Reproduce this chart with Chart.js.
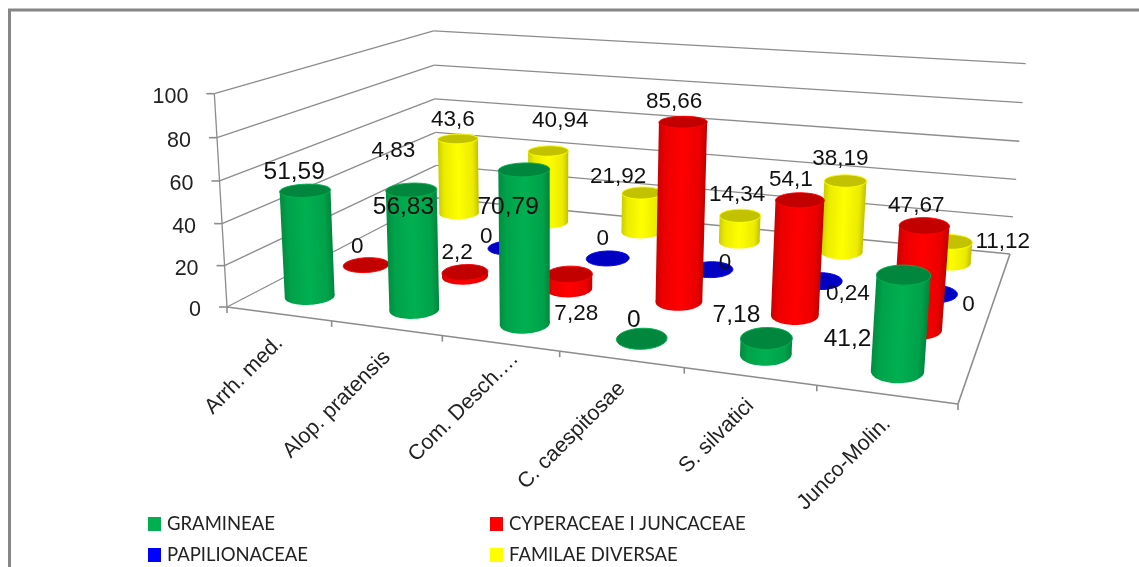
<!DOCTYPE html>
<html>
<head>
<meta charset="utf-8">
<title>Grupe de plante</title>
<script src="https://cdn.jsdelivr.net/npm/chart.js@4/dist/chart.umd.min.js"></script>
<style>
  html, body { margin: 0; padding: 0; background: #fff; overflow: hidden; }
  canvas { display: block; }
</style>
</head>
<body>
<canvas id="plantsChart" width="1139" height="567"></canvas>
<script>
const categories = ["Arrh. med.", "Alop. pratensis", "Com. Desch.…", "C. caespitosae", "S. silvatici", "Junco-Molin."];
const seriesNames = ["GRAMINEAE", "CYPERACEAE I JUNCACEAE", "PAPILIONACEAE", "FAMILAE DIVERSAE"];

const gramineae = [51.59, 56.83, 70.79, 0, 7.18, 41.2];
const cyperaceae = [0, 2.2, 7.28, 85.66, 54.1, 47.67];
const papilionaceae = [4.83, 0, 0, 0, 0.24, 0];
const familae = [43.6, 40.94, 21.92, 14.34, 38.19, 11.12];

const seriesColors = ["#00B050", "#FF0000", "#0000FF", "#FFFF00"];

// floor and wall corners of the 3D box, in canvas pixels
const box = {
  frontLeft: [227, 307],
  frontRight: [958, 404],
  backRight: [1010, 254],
  backLeft: [437, 198],
  frontLeftTop: [212, 94],
  backLeftTop: [436, 32],
  backRightTop: [1025, 62]
};
const cylinderRadius = { u: 0.032, w: 0.064 };
const ellipseLevelling = 0.6;

// data label shift from the top of each cylinder, series by series
const labelShift = [
  [[-11, -18], [-8, 17], [-16, 38], [-8, -18], [-30, -23], [-56, 64]],
  [[-9, -18], [-8, -20], [7, 40], [-9, -20], [-9, -20], [-8, -20]],
  [[-22, -78], [-23, -11], [-5, -20], [14, -7], [28, 13], [34, 11]],
  [[-5, -19], [12, -30], [-24, -16], [-3, -21], [-5, -22], [52, 0]]
];
// the shortened category name sits further along its slant
const categoryShift = [0, 0, 14, 0, 0, 0];

const axisColor = "#8c8c8c";
const textColor = "#111";

// u runs along the categories, w into the depth, h up the value axis
function buildProjection() {
  const [x0, y0] = box.frontLeft;
  const [x1, y1] = box.frontRight;
  const [x2, y2] = box.backRight;
  const [x3, y3] = box.backLeft;
  const dx1 = x1 - x2, dx2 = x3 - x2, sx = x0 - x1 + x2 - x3;
  const dy1 = y1 - y2, dy2 = y3 - y2, sy = y0 - y1 + y2 - y3;
  const det = dx1 * dy2 - dx2 * dy1;
  const c1 = (sx * dy2 - dx2 * sy) / det;
  const c2 = (dx1 * sy - sx * dy1) / det;
  const a1 = x1 - x0 + c1 * x1, a2 = x3 - x0 + c2 * x3;
  const b1 = y1 - y0 + c1 * y1, b2 = y3 - y0 + c2 * y3;

  // the height column comes from a least squares fit on the three wall corners
  const rows = [];
  [[box.frontLeftTop, 0, 0], [box.backLeftTop, 0, 1], [box.backRightTop, 1, 1]].forEach(([p, u, w]) => {
    const d = c1 * u + c2 * w + 1;
    rows.push([1, 0, -p[0], p[0] * d - (a1 * u + a2 * w + x0)]);
    rows.push([0, 1, -p[1], p[1] * d - (b1 * u + b2 * w + y0)]);
  });
  const [a3, b3, c3] = solveLeastSquares(rows);
  return function (u, w, h) {
    const d = c1 * u + c2 * w + c3 * h + 1;
    return [(a1 * u + a2 * w + a3 * h + x0) / d, (b1 * u + b2 * w + b3 * h + y0) / d];
  };
}

function solveLeastSquares(rows) {
  const m = [0, 1, 2].map((i) => [0, 1, 2, 3].map((j) => rows.reduce((sum, r) => sum + r[i] * r[j], 0)));
  for (let i = 0; i < 3; i++) {
    let pivot = i;
    for (let k = i + 1; k < 3; k++) if (Math.abs(m[k][i]) > Math.abs(m[pivot][i])) pivot = k;
    [m[i], m[pivot]] = [m[pivot], m[i]];
    for (let k = 0; k < 3; k++) {
      if (k === i) continue;
      const f = m[k][i] / m[i][i];
      for (let j = i; j < 4; j++) m[k][j] -= f * m[i][j];
    }
  }
  return [m[0][3] / m[0][0], m[1][3] / m[1][1], m[2][3] / m[2][2]];
}
const project = buildProjection();

function shade(hex, factor) {
  const n = parseInt(hex.slice(1), 16);
  const r = Math.round(((n >> 16) & 255) * factor);
  const g = Math.round(((n >> 8) & 255) * factor);
  const b = Math.round((n & 255) * factor);
  return `rgb(${r},${g},${b})`;
}

function tracePolygon(ctx, points) {
  ctx.beginPath();
  points.forEach((p, i) => (i ? ctx.lineTo(p[0], p[1]) : ctx.moveTo(p[0], p[1])));
  ctx.closePath();
}

function extremes(ring) {
  let left = ring[0], right = ring[0];
  ring.forEach((p) => {
    if (p[0] < left[0]) left = p;
    if (p[0] > right[0]) right = p;
  });
  return [left, right];
}

function ringAt(u, w, h) {
  const ring = [];
  for (let t = 0; t < 64; t++) {
    const a = (t / 64) * Math.PI * 2;
    ring.push(project(u + cylinderRadius.u * Math.cos(a), w + cylinderRadius.w * Math.sin(a), h));
  }
  // take most of the skew of the floor out of the ellipse
  const [left, right] = extremes(ring);
  const slope = (right[1] - left[1]) / (right[0] - left[0]);
  const cx = project(u, w, h)[0];
  return ring.map((p) => [p[0], p[1] - ellipseLevelling * slope * (p[0] - cx)]);
}

function drawCylinder(ctx, u, w, h, color) {
  const base = ringAt(u, w, 0);
  const top = ringAt(u, w, h);
  if (h > 0) {
    const [bl, br] = extremes(base);
    const [tl, tr] = extremes(top);
    // shade across the axis of the cylinder, which leans with the perspective
    const ax = (tl[0] + tr[0] - bl[0] - br[0]) / 2;
    const ay = (tl[1] + tr[1] - bl[1] - br[1]) / 2;
    const len = Math.hypot(ax, ay) || 1;
    const nx = -ay / len, ny = ax / len;
    const sx = (bl[0] + tl[0]) / 2, sy = (bl[1] + tl[1]) / 2;
    const span = ((br[0] + tr[0]) / 2 - sx) * nx + ((br[1] + tr[1]) / 2 - sy) * ny;
    const grad = ctx.createLinearGradient(sx, sy, sx + nx * span, sy + ny * span);
    grad.addColorStop(0, shade(color, 0.8));
    grad.addColorStop(0.14, shade(color, 0.92));
    grad.addColorStop(0.5, color);
    grad.addColorStop(0.86, shade(color, 0.92));
    grad.addColorStop(1, shade(color, 0.76));
    ctx.fillStyle = grad;
    tracePolygon(ctx, base);
    ctx.fill();
    tracePolygon(ctx, [tl, tr, br, bl]);
    ctx.fill();
  }
  tracePolygon(ctx, top);
  ctx.fillStyle = shade(color, 0.76);
  ctx.fill();
  ctx.strokeStyle = color;
  ctx.lineWidth = 1;
  ctx.stroke();
}

function line(ctx, a, b) {
  ctx.beginPath();
  ctx.moveTo(a[0], a[1]);
  ctx.lineTo(b[0], b[1]);
  ctx.stroke();
}

const box3dPlugin = {
  id: "box3d",
  beforeDatasetsDraw(chart) {
    const ctx = chart.ctx;
    const { x, y, depth } = chart.scales;
    const heightOf = (v) => (y.bottom - y.getPixelForValue(v)) / y.height;
    const along = (i) => (x.getPixelForValue(i) - x.left) / x.width;
    const into = (s) => (depth.getPixelForValue(s) - depth.left) / depth.width;

    ctx.save();
    // frame, open on the right and at the bottom
    ctx.strokeStyle = "#868686";
    ctx.lineWidth = 3;
    line(ctx, [9.5, 567], [9.5, 10]);
    line(ctx, [8, 10], [1139, 10]);

    // walls and floor
    ctx.strokeStyle = axisColor;
    ctx.lineWidth = 1.3;
    y.ticks.forEach((tick) => {
      const h = heightOf(tick.value);
      const corner = project(0, 1, h);
      line(ctx, project(0, 0, h), corner);
      line(ctx, corner, project(1, 1, h));
    });
    line(ctx, project(0, 0, 0), project(0, 0, 1));
    ctx.lineWidth = 1.6;
    line(ctx, project(0, 0, 0), project(1, 0, 0));
    line(ctx, project(1, 0, 0), project(1, 1, 0));

    // value axis ticks and labels
    ctx.font = "21.5px 'Liberation Sans'";
    ctx.fillStyle = "#222";
    ctx.textAlign = "right";
    ctx.textBaseline = "middle";
    y.ticks.forEach((tick) => {
      const p = project(0, 0, heightOf(tick.value));
      ctx.strokeStyle = axisColor;
      line(ctx, [p[0] - 8, p[1]], p);
      ctx.fillText(String(tick.value), p[0] - 26, p[1] + 3);
    });

    // category ticks and slanted labels
    const names = x.getLabels();
    for (let i = 0; i <= names.length; i++) {
      const p = project(i / names.length, 0, 0);
      ctx.strokeStyle = axisColor;
      line(ctx, p, [p[0], p[1] + 6]);
    }
    ctx.font = "21.5px 'Liberation Sans'";
    names.forEach((name, i) => {
      const p = project(along(i), 0, 0);
      ctx.save();
      ctx.translate(p[0] + 1, p[1] + 26);
      ctx.rotate(-Math.PI / 4);
      ctx.fillText(name, categoryShift[i] * Math.SQRT2, 0);
      ctx.restore();
    });

    // cylinders, back row first so the front ones overlap them
    const datasets = chart.data.datasets;
    for (let s = datasets.length - 1; s >= 0; s--) {
      datasets[s].data.forEach((value, i) => {
        drawCylinder(ctx, along(i), into(s), heightOf(value), datasets[s].backgroundColor);
      });
    }

    // data labels, with a comma for the decimal mark
    ctx.fillStyle = textColor;
    ctx.textAlign = "center";
    datasets.forEach((ds, s) => {
      ctx.font = (s === 0 ? "24.5px" : "22.5px") + " 'Liberation Sans'";
      ds.data.forEach((value, i) => {
        const p = project(along(i), into(s), heightOf(value));
        ctx.fillText(String(value).replace(".", ","), p[0] + labelShift[s][i][0], p[1] + labelShift[s][i][1]);
      });
    });

    // legend in two rows and two columns
    ctx.font = "18.5px Lato";
    ctx.textAlign = "left";
    const legendX = [148, 490];
    const legendY = [524, 555];
    datasets.forEach((ds, s) => {
      const lx = legendX[s % 2], ly = legendY[s >> 1];
      ctx.fillStyle = ds.backgroundColor;
      ctx.fillRect(lx, ly - 7, 13, 14);
      ctx.fillStyle = "#222";
      ctx.fillText(ds.label, lx + 19, ly);
    });
    ctx.restore();
    return false;
  }
};

new Chart(document.getElementById("plantsChart"), {
  type: "bar",
  data: {
    labels: categories,
    datasets: [
      { label: seriesNames[0], data: gramineae, backgroundColor: seriesColors[0] },
      { label: seriesNames[1], data: cyperaceae, backgroundColor: seriesColors[1] },
      { label: seriesNames[2], data: papilionaceae, backgroundColor: seriesColors[2] },
      { label: seriesNames[3], data: familae, backgroundColor: seriesColors[3] }
    ]
  },
  plugins: [box3dPlugin],
  options: {
    responsive: false,
    animation: false,
    layout: { padding: 0 },
    plugins: { legend: { display: false }, tooltip: { enabled: false } },
    scales: {
      x: { display: false },
      y: { display: false, min: 0, max: 100, ticks: { stepSize: 20 } },
      depth: { type: "category", axis: "x", position: "bottom", labels: seriesNames, offset: true, display: false }
    }
  }
});
</script>
</body>
</html>
